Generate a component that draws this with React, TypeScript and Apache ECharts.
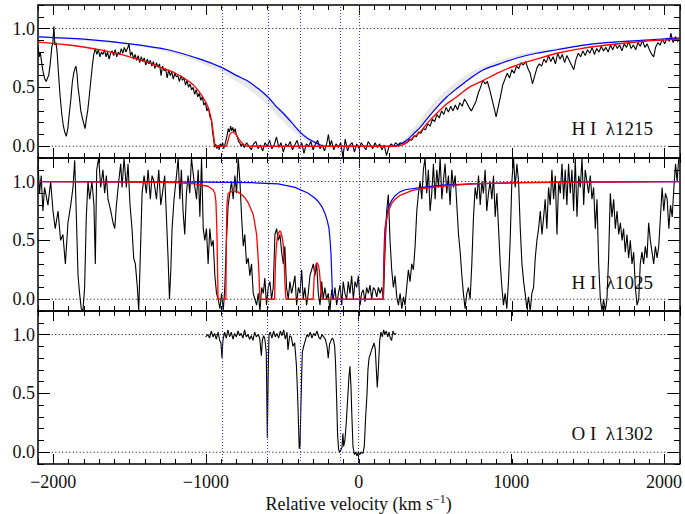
import React, { useEffect, useRef } from "react";
import * as echarts from "echarts";

// ---------- axes ----------
const X_RANGE = [-2100, 2100];
const Y_RANGE = [-0.1, 1.2];
const xMajorTicks = [-2000, -1000, 0, 1000, 2000];
const yMajorTicks = [0, 0.5, 1.0];
const componentVelocities = [-895, -596, -384, -120, 0];
const referenceLevels = [0, 1];
const referenceSpan = [-2010, 2020];
const panelNames = ["H I\u00a0\u00a0\u03bb1215", "H I\u00a0\u00a0\u03bb1025", "O I\u00a0\u00a0\u03bb1302"];

// ---------- panel 1 : H I 1215 ----------
const hi1215Data = [
  [-2100, 0.84], [-2092, 0.76], [-2085, 0.8], [-2075, 0.7], [-2065, 0.62], [-2055, 0.57], [-2046, 0.55], [-2038, 0.58],
  [-2030, 0.6], [-2020, 0.7], [-2010, 0.84], [-2003, 0.88], [-1996, 1.02], [-1990, 0.86], [-1982, 0.88], [-1975, 0.8],
  [-1965, 0.6], [-1955, 0.42], [-1945, 0.28], [-1935, 0.18], [-1925, 0.12], [-1915, 0.085], [-1905, 0.15], [-1895, 0.28],
  [-1885, 0.4], [-1875, 0.55], [-1865, 0.63], [-1858, 0.66], [-1852, 0.68], [-1845, 0.62], [-1838, 0.5], [-1830, 0.42],
  [-1820, 0.3], [-1810, 0.24], [-1800, 0.19], [-1792, 0.15], [-1785, 0.22], [-1775, 0.3], [-1765, 0.42], [-1755, 0.55],
  [-1745, 0.68], [-1735, 0.78], [-1725, 0.83], [-1715, 0.78], [-1705, 0.82], [-1695, 0.76], [-1685, 0.8], [-1675, 0.78],
  [-1665, 0.82], [-1655, 0.76], [-1645, 0.8], [-1635, 0.74], [-1625, 0.79], [-1615, 0.81], [-1605, 0.77], [-1595, 0.82],
  [-1585, 0.76], [-1575, 0.8], [-1565, 0.78], [-1555, 0.83], [-1545, 0.79], [-1535, 0.84], [-1525, 0.8], [-1515, 0.83],
  [-1505, 0.87], [-1495, 0.77], [-1485, 0.8], [-1475, 0.74], [-1465, 0.78], [-1455, 0.73], [-1445, 0.77], [-1435, 0.71],
  [-1425, 0.76], [-1415, 0.72], [-1405, 0.75], [-1395, 0.69], [-1385, 0.74], [-1375, 0.7], [-1365, 0.73], [-1355, 0.68],
  [-1345, 0.72], [-1335, 0.66], [-1325, 0.71], [-1315, 0.67], [-1305, 0.7], [-1295, 0.6], [-1285, 0.68], [-1275, 0.64],
  [-1265, 0.66], [-1255, 0.58], [-1245, 0.65], [-1235, 0.6], [-1225, 0.63], [-1215, 0.57], [-1205, 0.62], [-1195, 0.59],
  [-1185, 0.6], [-1175, 0.55], [-1165, 0.6], [-1155, 0.56], [-1145, 0.58], [-1135, 0.52], [-1125, 0.56], [-1115, 0.5],
  [-1105, 0.53], [-1095, 0.48], [-1085, 0.5], [-1075, 0.44], [-1065, 0.48], [-1055, 0.42], [-1045, 0.45], [-1035, 0.39],
  [-1025, 0.42], [-1015, 0.35], [-1005, 0.37], [-995, 0.3], [-985, 0.33], [-975, 0.25], [-965, 0.22], [-958, 0.12],
  [-950, 0.05], [-944, -0.01], [-938, 0.02], [-930, -0.02], [-922, 0.01], [-915, -0.03], [-908, 0.02], [-900, 0.0],
  [-892, 0.03], [-885, -0.02], [-878, 0.01], [-870, 0.05], [-862, 0.1], [-855, 0.15], [-848, 0.12], [-840, 0.17],
  [-833, 0.13], [-826, 0.16], [-818, 0.12], [-810, 0.15], [-803, 0.1], [-796, 0.08], [-788, 0.04], [-780, 0.03],
  [-772, 0.0], [-765, 0.02], [-750, -0.01], [-735, 0.03], [-720, 0.0], [-705, -0.03], [-690, 0.02], [-675, 0.04],
  [-660, -0.02], [-645, 0.01], [-630, -0.04], [-615, 0.03], [-600, 0.0], [-585, 0.05], [-570, -0.02], [-555, 0.01],
  [-540, 0.08], [-525, -0.01], [-510, 0.03], [-495, -0.05], [-480, 0.02], [-465, 0.0], [-450, 0.04], [-435, -0.03],
  [-420, 0.01], [-405, 0.05], [-390, -0.02], [-375, 0.03], [-360, -0.06], [-345, 0.02], [-330, 0.0], [-315, 0.04],
  [-300, -0.03], [-285, 0.02], [-270, 0.05], [-255, -0.02], [-240, 0.01], [-225, -0.04], [-210, 0.03], [-200, 0.1],
  [-190, 0.0], [-180, 0.05], [-165, -0.03], [-150, 0.02], [-135, -0.01], [-120, 0.03], [-105, -0.09], [-90, 0.06],
  [-75, -0.04], [-60, 0.01], [-45, 0.03], [-30, -0.05], [-15, 0.02], [0, -0.02], [15, 0.03], [30, 0.0], [45, -0.03],
  [60, 0.04], [75, 0.01], [90, -0.02], [105, 0.03], [120, -0.01], [135, 0.02], [150, -0.03], [165, 0.01], [180, -0.08],
  [195, -0.01], [210, 0.02], [225, 0.0], [240, 0.03], [255, 0.01], [270, 0.03], [285, 0.02], [300, 0.04], [315, 0.03],
  [330, 0.06], [345, 0.05], [360, 0.09], [375, 0.08], [390, 0.12], [405, 0.11], [420, 0.15], [435, 0.14], [450, 0.19],
  [465, 0.17], [480, 0.23], [495, 0.21], [510, 0.27], [525, 0.24], [540, 0.3], [555, 0.27], [570, 0.33], [585, 0.29],
  [600, 0.34], [615, 0.3], [630, 0.35], [645, 0.31], [660, 0.37], [675, 0.34], [690, 0.4], [705, 0.37], [720, 0.33],
  [735, 0.3], [750, 0.34], [765, 0.38], [780, 0.45], [795, 0.5], [810, 0.56], [825, 0.53], [840, 0.55], [855, 0.48],
  [870, 0.4], [885, 0.32], [897, 0.25], [910, 0.33], [925, 0.42], [940, 0.52], [955, 0.57], [970, 0.62], [985, 0.58],
  [1000, 0.65], [1015, 0.62], [1030, 0.68], [1045, 0.66], [1060, 0.71], [1075, 0.69], [1090, 0.72], [1105, 0.66],
  [1120, 0.62], [1135, 0.53], [1150, 0.6], [1165, 0.67], [1180, 0.7], [1195, 0.68], [1210, 0.74], [1225, 0.71],
  [1240, 0.77], [1255, 0.72], [1270, 0.76], [1285, 0.7], [1300, 0.79], [1315, 0.74], [1330, 0.78], [1345, 0.71],
  [1360, 0.77], [1375, 0.73], [1390, 0.69], [1405, 0.65], [1420, 0.74], [1435, 0.79], [1450, 0.76], [1465, 0.81],
  [1480, 0.77], [1495, 0.82], [1510, 0.79], [1525, 0.84], [1540, 0.78], [1555, 0.83], [1570, 0.8], [1585, 0.85],
  [1600, 0.81], [1615, 0.84], [1630, 0.8], [1645, 0.86], [1660, 0.82], [1675, 0.87], [1690, 0.83], [1705, 0.86],
  [1720, 0.81], [1735, 0.87], [1750, 0.84], [1765, 0.89], [1780, 0.83], [1795, 0.86], [1810, 0.82], [1825, 0.88],
  [1840, 0.85], [1855, 0.9], [1870, 0.84], [1885, 0.87], [1900, 0.82], [1915, 0.78], [1928, 0.76], [1940, 0.84],
  [1955, 0.88], [1970, 0.86], [1985, 0.91], [2000, 0.87], [2015, 0.92], [2030, 0.89], [2040, 0.96], [2055, 0.88],
  [2070, 0.93], [2085, 0.89], [2100, 0.92],
];
const hi1215Total = [
  [-2100, 0.885], [-1900, 0.86], [-1700, 0.82], [-1500, 0.76], [-1400, 0.72], [-1300, 0.67], [-1200, 0.62],
  [-1100, 0.54], [-1050, 0.47], [-1000, 0.37], [-980, 0.3], [-965, 0.22], [-955, 0.13], [-947, 0.05], [-940, 0.0],
  [-870, 0.0], [-860, 0.03], [-845, 0.1], [-825, 0.12], [-805, 0.1], [-780, 0.05], [-755, 0.015], [-730, 0.0],
  [240, 0.0], [280, 0.01], [312, 0.03], [350, 0.07], [400, 0.12], [450, 0.2], [509, 0.28], [575, 0.36], [640, 0.42],
  [720, 0.5], [814, 0.56], [920, 0.63], [1033, 0.69], [1160, 0.74], [1295, 0.79], [1450, 0.83], [1622, 0.86],
  [1850, 0.89], [2100, 0.91],
];
const hi1215Main = [
  [-2100, 0.93], [-1800, 0.91], [-1500, 0.87], [-1250, 0.82], [-1040, 0.74], [-900, 0.67], [-800, 0.6], [-736, 0.56],
  [-660, 0.49], [-598, 0.42], [-550, 0.35], [-496, 0.28], [-440, 0.2], [-386, 0.12], [-340, 0.07], [-299, 0.04],
  [-260, 0.015], [-230, 0.0], [220, 0.0], [260, 0.01], [312, 0.05], [360, 0.11], [400, 0.16], [450, 0.24], [509, 0.33],
  [575, 0.42], [640, 0.49], [720, 0.57], [814, 0.65], [920, 0.7], [1033, 0.75], [1160, 0.79], [1295, 0.82],
  [1450, 0.855], [1622, 0.88], [1850, 0.9], [2100, 0.92],
];
const bandVel = [-2100, -1500, -1250, -1040, -900, -800, -736, -660, -598, -550, -496, -440, -386, -340, -299, -260, -230, -200,
  200, 230, 260, 312, 360, 400, 450, 509, 575, 640, 720, 814, 920, 1033, 1160, 1295, 1450, 1622, 1850, 2100];
const bandLow = [0.925, 0.86, 0.8, 0.71, 0.63, 0.55, 0.5, 0.42, 0.35, 0.28, 0.21, 0.14, 0.08, 0.04, 0.015, 0.0, 0, 0,
  0, 0, 0.005, 0.04, 0.1, 0.15, 0.23, 0.32, 0.41, 0.48, 0.56, 0.64, 0.69, 0.745, 0.785, 0.815, 0.85, 0.875, 0.9, 0.92];
const bandHigh = [0.935, 0.875, 0.825, 0.745, 0.68, 0.61, 0.57, 0.5, 0.44, 0.37, 0.3, 0.22, 0.14, 0.09, 0.055, 0.03, 0.01, 0,
  0, 0.01, 0.025, 0.08, 0.16, 0.22, 0.31, 0.4, 0.48, 0.55, 0.62, 0.68, 0.73, 0.775, 0.81, 0.835, 0.865, 0.89, 0.91, 0.925];

// ---------- panel 2 : H I 1025 ----------
const hi1025Data = [
  [-2100, 1.15], [-2090, 0.9], [-2079, 1.05], [-2068, 0.75], [-2057, 0.95], [-2035, 0.8], [-2017, 1.0], [-2002, 0.75],
  [-1987, 0.6], [-1969, 0.75], [-1952, 0.5], [-1937, 0.55], [-1921, 0.3], [-1904, 0.65], [-1886, 0.8], [-1871, 0.95],
  [-1860, 1.18], [-1849, 0.7], [-1838, 0.2], [-1828, 0.05], [-1817, -0.08], [-1806, -0.1], [-1795, 0.1], [-1784, 0.7],
  [-1773, 1.0], [-1762, 0.85], [-1747, 1.0], [-1734, 0.8], [-1725, 0.3], [-1716, 1.1], [-1703, 1.2], [-1690, 0.95],
  [-1675, 1.1], [-1664, 0.9], [-1653, 1.05], [-1642, 0.85], [-1624, 0.75], [-1609, 0.65], [-1598, 0.6], [-1587, 0.8],
  [-1572, 1.0], [-1559, 1.15], [-1550, 0.95], [-1537, 1.2], [-1522, 0.95], [-1511, 1.15], [-1498, 0.8], [-1485, 0.6],
  [-1474, 0.35], [-1463, 0.3], [-1450, 0.1], [-1441, -0.1], [-1430, 0.4], [-1419, 0.9], [-1406, 1.05], [-1391, 0.9],
  [-1380, 1.1], [-1365, 0.85], [-1354, 1.05], [-1341, 1.0], [-1325, 0.85], [-1310, 1.1], [-1297, 0.8], [-1286, 0.9],
  [-1271, 1.05], [-1260, 0.7], [-1249, 0.35], [-1240, 0.0], [-1231, 0.25], [-1223, 0.6], [-1210, 0.85], [-1194, 1.05],
  [-1183, 1.2], [-1172, 0.85], [-1162, 1.1], [-1151, 0.75], [-1140, 0.55], [-1129, 0.9], [-1118, 1.05], [-1107, 0.9],
  [-1096, 1.2], [-1079, 1.0], [-1063, 0.85], [-1052, 1.1], [-1041, 0.7], [-1030, 1.2], [-1019, 0.6], [-1009, 0.5],
  [-998, 0.6], [-987, 0.3], [-976, 0.6], [-965, 0.45], [-954, 0.5], [-943, 0.2], [-932, 0.05], [-921, 0.0],
  [-910, -0.08], [-899, 0.05], [-888, -0.1], [-878, 0.1], [-867, 0.5], [-856, 0.8], [-845, 0.9], [-834, 1.0],
  [-823, 0.85], [-812, 1.05], [-801, 0.9], [-790, 1.2], [-779, 1.0], [-768, 0.7], [-757, 0.45], [-747, 0.55],
  [-736, 0.3], [-725, 0.35], [-714, 0.2], [-703, 0.3], [-692, 0.05], [-681, 0.0], [-670, -0.05], [-659, 0.05],
  [-648, -0.1], [-637, 0.1], [-626, 0.05], [-616, 0.18], [-605, -0.05], [-594, 0.1], [-583, 0.15], [-572, 0.0],
  [-561, 0.1], [-550, 0.55], [-539, 0.6], [-528, 0.5], [-517, 0.55], [-506, 0.4], [-495, 0.3], [-485, 0.45],
  [-474, 0.1], [-463, 0.0], [-452, 0.15], [-441, 0.05], [-430, 0.12], [-419, 0.2], [-408, -0.05], [-397, 0.1],
  [-386, 0.05], [-375, 0.25], [-365, 0.0], [-354, 0.1], [-343, -0.05], [-332, 0.05], [-321, 0.2], [-310, 0.25],
  [-299, 0.3], [-288, 0.2], [-277, 0.3], [-266, 0.05], [-255, -0.05], [-244, 0.15], [-234, 0.0], [-223, 0.1],
  [-212, 0.0], [-201, 0.05], [-190, -0.1], [-179, 0.08], [-168, 0.0], [-157, 0.1], [-146, -0.05], [-135, 0.05],
  [-124, 0.12], [-113, -0.05], [-103, 0.15], [-92, 0.05], [-81, 0.0], [-70, 0.15], [-59, 0.05], [-48, 0.2],
  [-37, 0.0], [-26, 0.15], [-15, 0.1], [-4, 0.2], [7, -0.05], [17, 0.05], [28, 0.08], [39, -0.02], [50, 0.1],
  [61, 0.05], [72, 0.12], [83, 0.0], [94, 0.1], [105, 0.08], [116, 0.02], [127, 0.1], [138, 0.05], [149, 0.1],
  [160, 0.0], [170, 0.4], [181, 0.75], [192, 0.89], [203, 0.5], [214, 0.25], [225, 0.1], [236, 0.2], [247, 0.02],
  [258, -0.05], [269, 0.05], [280, -0.08], [291, 0.02], [301, -0.05], [312, 0.1], [323, 0.25], [334, 0.15],
  [345, 0.3], [356, 0.25], [367, 0.45], [378, 0.75], [389, 0.9], [400, 1.0], [411, 0.85], [421, 1.1], [432, 1.2],
  [443, 0.9], [454, 1.1], [465, 0.75], [476, 0.9], [487, 1.15], [498, 0.85], [509, 1.1], [520, 0.95], [531, 1.2],
  [542, 0.85], [552, 1.0], [563, 1.15], [574, 0.9], [585, 1.05], [596, 0.8], [607, 1.1], [618, 0.95], [629, 1.05],
  [640, 0.8], [651, 0.55], [662, 0.4], [673, 0.2], [683, 0.05], [694, -0.08], [705, 0.05], [716, 0.1], [727, 0.0],
  [738, 0.3], [749, 0.7], [760, 0.95], [771, 0.85], [782, 1.05], [793, 0.8], [804, 1.0], [814, 0.9], [825, 1.1],
  [836, 0.75], [847, 0.9], [858, 1.0], [869, 0.85], [880, 1.05], [891, 0.7], [902, 0.9], [913, 0.6], [924, 0.3],
  [935, 0.1], [945, -0.05], [956, 0.05], [967, -0.08], [978, 0.15], [989, 0.5], [1000, 1.0], [1011, 1.2],
  [1022, 0.95], [1033, 1.15], [1044, 1.0], [1055, 0.6], [1066, 0.3], [1077, 0.15], [1087, 0.05], [1098, -0.08],
  [1109, 0.02], [1120, -0.1], [1131, 0.05], [1142, 0.1], [1153, 0.35], [1164, 0.5], [1175, 0.6], [1186, 0.75],
  [1197, 0.55], [1208, 0.7], [1218, 0.85], [1229, 0.6], [1240, 0.95], [1251, 0.8], [1262, 1.1], [1273, 0.85],
  [1284, 1.05], [1295, 0.55], [1306, 1.0], [1317, 0.9], [1328, 1.15], [1339, 0.85], [1349, 1.1], [1360, 0.8],
  [1371, 1.15], [1382, 0.9], [1393, 1.1], [1404, 0.75], [1415, 1.2], [1426, 0.7], [1437, 1.05], [1448, 0.95],
  [1459, 1.2], [1470, 0.8], [1480, 1.1], [1491, 1.0], [1502, 0.9], [1513, 1.05], [1524, 0.85], [1535, 0.95],
  [1546, 0.6], [1557, 0.85], [1568, 0.3], [1579, 0.0], [1590, -0.1], [1600, 0.0], [1611, -0.1], [1622, 0.0],
  [1633, 0.35], [1644, 0.9], [1655, 0.7], [1666, 0.85], [1677, 0.6], [1688, 0.75], [1699, 0.55], [1710, 0.65],
  [1721, 0.5], [1731, 0.6], [1742, 0.4], [1753, 0.55], [1764, 0.35], [1775, 0.5], [1786, 0.3], [1797, 0.4],
  [1808, 0.1], [1819, -0.05], [1830, 0.0], [1840, 0.3], [1851, 0.4], [1862, 0.3], [1873, 0.45], [1884, 0.35],
  [1895, 0.65], [1906, 0.5], [1917, 0.4], [1928, 0.3], [1939, 0.45], [1950, 0.35], [1961, 0.45], [1972, 0.7],
  [1983, 0.95], [1994, 0.75], [2005, 0.9], [2016, 0.85], [2027, 0.6], [2038, 0.8], [2049, 0.7], [2060, 0.95],
  [2071, 1.15], [2081, 1.0], [2092, 1.2], [2103, 1.2],
];
const hi1025Total = [
  [-2100, 1.0], [-1500, 0.995], [-1200, 0.99], [-1074, 0.98], [-987, 0.96], [-955, 0.93], [-943, 0.9], [-936, 0.83],
  [-930, 0.6], [-926, 0.3], [-922, 0.0], [-871, 0.0], [-868, 0.5], [-864, 0.8], [-856, 0.9], [-823, 0.92],
  [-790, 0.91], [-768, 0.89], [-745, 0.86], [-725, 0.82], [-705, 0.76], [-692, 0.72], [-680, 0.63], [-670, 0.55],
  [-662, 0.4], [-655, 0.23], [-648, 0.0], [-552, 0.0], [-547, 0.3], [-542, 0.42], [-535, 0.52], [-528, 0.56],
  [-518, 0.58], [-511, 0.57], [-503, 0.53], [-495, 0.46], [-489, 0.3], [-485, 0.15], [-478, 0.0], [-300, 0.0],
  [-294, 0.17], [-288, 0.26], [-280, 0.3], [-273, 0.31], [-266, 0.29], [-260, 0.25], [-254, 0.16], [-249, 0.08],
  [-240, 0.0], [158, 0.0], [162, 0.2], [166, 0.38], [175, 0.63], [192, 0.75], [212, 0.81], [236, 0.85], [265, 0.88],
  [301, 0.9], [350, 0.925], [411, 0.94], [542, 0.96], [738, 0.98], [1044, 0.99], [1500, 0.995], [2100, 1.0],
];
const hi1025Main = [
  [-2100, 1.0], [-1000, 0.995], [-700, 0.99], [-528, 0.98], [-419, 0.95], [-332, 0.9], [-290, 0.86], [-266, 0.83],
  [-240, 0.78], [-223, 0.73], [-208, 0.67], [-196, 0.6], [-188, 0.48], [-183, 0.38], [-178, 0.2], [-172, 0.0],
  [158, 0.0], [162, 0.3], [166, 0.5], [170, 0.6], [181, 0.7], [192, 0.78], [214, 0.84], [236, 0.88], [265, 0.91],
  [301, 0.93], [411, 0.95], [542, 0.97], [738, 0.98], [1044, 0.99], [1500, 0.995], [2100, 1.0],
];

// ---------- panel 3 : O I 1302 ----------
const oi1302Data = [
  [-1002, 0.98], [-987, 1.0], [-976, 0.97], [-965, 1.03], [-954, 0.98], [-943, 1.01], [-932, 0.96], [-921, 1.02],
  [-910, 0.95], [-902, 0.93], [-895, 0.8], [-889, 0.95], [-878, 1.02], [-867, 0.97], [-856, 1.04], [-845, 0.98],
  [-834, 1.02], [-823, 0.96], [-812, 1.01], [-801, 0.98], [-790, 1.03], [-779, 0.99], [-769, 1.01], [-758, 0.97],
  [-747, 1.04], [-736, 0.98], [-725, 1.0], [-714, 0.96], [-703, 0.99], [-692, 0.95], [-681, 1.02], [-670, 0.98],
  [-659, 1.0], [-648, 0.97], [-637, 0.82], [-631, 0.95], [-622, 0.99], [-614, 0.96], [-605, 0.85], [-598, 0.12],
  [-592, 0.7], [-587, 1.0], [-579, 1.02], [-568, 0.97], [-557, 1.03], [-546, 0.98], [-535, 1.01], [-524, 0.97],
  [-513, 1.03], [-502, 0.99], [-491, 1.04], [-480, 0.96], [-469, 1.02], [-463, 0.87], [-452, 0.99], [-441, 0.98],
  [-430, 0.9], [-419, 0.93], [-408, 0.75], [-400, 0.5], [-393, 0.2], [-389, 0.03], [-384, 0.05], [-378, 0.4],
  [-369, 0.85], [-360, 0.9], [-349, 0.95], [-338, 1.0], [-328, 0.98], [-317, 1.02], [-306, 0.97], [-295, 1.01],
  [-284, 0.99], [-273, 1.03], [-262, 0.98], [-251, 0.96], [-240, 1.0], [-229, 0.98], [-218, 0.96], [-207, 0.9],
  [-199, 0.8], [-190, 0.92], [-181, 0.95], [-172, 0.97], [-164, 0.95], [-157, 0.9], [-151, 0.75], [-144, 0.45],
  [-138, 0.15], [-131, 0.02], [-124, 0.0], [-116, 0.02], [-109, 0.04], [-103, 0.16], [-98, 0.05], [-90, 0.1],
  [-81, 0.25], [-72, 0.45], [-63, 0.65], [-57, 0.73], [-50, 0.55], [-44, 0.3], [-37, 0.05], [-28, -0.02],
  [-20, 0.0], [-11, -0.03], [-2, 0.0], [7, -0.02], [17, 0.0], [28, -0.01], [37, 0.05], [46, 0.3], [55, 0.5],
  [61, 0.7], [68, 0.8], [76, 0.83], [85, 0.87], [94, 0.9], [100, 0.93], [109, 0.88], [116, 0.7], [122, 0.55],
  [129, 0.7], [138, 0.95], [146, 1.02], [155, 0.98], [164, 1.04], [172, 1.0], [181, 1.03], [190, 0.98], [199, 1.02],
  [207, 0.97], [216, 0.95], [225, 1.03], [234, 1.0], [247, 1.01],
];

// ---------- layout ----------
const FONT = "Liberation Serif";
const LEFT = 38;
const WIDTH = 642;
const HEIGHT = 153;
const TOPS = [5, 158, 311];

const xMinorTicks: number[] = [];
for (let v = X_RANGE[0]; v <= X_RANGE[1]; v += 100) xMinorTicks.push(v);
const yMinorTicks: number[] = [];
for (let k = -1; k <= 12; k++) yMinorTicks.push(k / 10);

const fmtX = (v: number) => (v < 0 ? "\u2212" + Math.abs(v) : String(v));

export default function App() {
  const ref = useRef<HTMLDivElement>(null);

  useEffect(() => {
    if (!ref.current) return;
    const chart = echarts.init(ref.current, undefined, { renderer: "svg" });

    const grids: any[] = [];
    const xAxes: any[] = [];
    const yAxes: any[] = [];
    const frameLine = { show: true, onZero: false, lineStyle: { color: "#000", width: 1.5 } };
    const noLine = { show: false, onZero: false };
    const tickStyle = { color: "#000", width: 1 };

    TOPS.forEach((top, i) => {
      const rect = { left: LEFT, top, width: WIDTH, height: HEIGHT };
      grids.push({ ...rect }, { ...rect });
      const isBottom = i === 2;
      const xc = { type: "value", min: X_RANGE[0], max: X_RANGE[1], splitLine: { show: false }, minorTick: { show: false } };
      const yc = { type: "value", min: Y_RANGE[0], max: Y_RANGE[1], splitLine: { show: false }, minorTick: { show: false } };
      xAxes.push(
        {
          ...xc, gridIndex: 2 * i, position: "bottom", axisLine: frameLine,
          axisTick: { show: true, inside: true, length: 10, customValues: xMajorTicks, lineStyle: tickStyle },
          axisLabel: {
            show: isBottom, customValues: xMajorTicks, formatter: fmtX, margin: 9,
            fontFamily: FONT, fontSize: 18, color: "#111",
          },
          name: isBottom ? "{a|Relative velocity (km s}{b|\u22121}{a|)}" : "",
          nameLocation: "middle", nameGap: 29,
          nameTextStyle: {
            fontFamily: FONT,
            rich: {
              a: { fontFamily: FONT, fontSize: 18, lineHeight: 22, color: "#111" },
              b: { fontFamily: FONT, fontSize: 12, lineHeight: 12, verticalAlign: "top", color: "#111" },
            },
          },
        },
        {
          ...xc, gridIndex: 2 * i, position: "top", axisLine: frameLine,
          axisTick: { show: true, inside: true, length: 10, customValues: xMajorTicks, lineStyle: tickStyle },
          axisLabel: { show: false },
        },
        {
          ...xc, gridIndex: 2 * i + 1, position: "bottom", axisLine: noLine,
          axisTick: { show: true, inside: true, length: 5, customValues: xMinorTicks, lineStyle: tickStyle },
          axisLabel: { show: false },
        },
        {
          ...xc, gridIndex: 2 * i + 1, position: "top", axisLine: noLine,
          axisTick: { show: true, inside: true, length: 5, customValues: xMinorTicks, lineStyle: tickStyle },
          axisLabel: { show: false },
        }
      );
      yAxes.push(
        {
          ...yc, gridIndex: 2 * i, position: "left", axisLine: frameLine,
          axisTick: { show: true, inside: true, length: 12, customValues: yMajorTicks, lineStyle: tickStyle },
          axisLabel: {
            show: true, customValues: yMajorTicks, formatter: (v: number) => v.toFixed(1), margin: 3,
            fontFamily: FONT, fontSize: 18, color: "#111",
          },
        },
        {
          ...yc, gridIndex: 2 * i, position: "right", axisLine: frameLine,
          axisTick: { show: true, inside: true, length: 12, customValues: yMajorTicks, lineStyle: tickStyle },
          axisLabel: { show: false },
        },
        {
          ...yc, gridIndex: 2 * i + 1, position: "left", axisLine: noLine,
          axisTick: { show: true, inside: true, length: 6, customValues: yMinorTicks, lineStyle: tickStyle },
          axisLabel: { show: false },
        },
        {
          ...yc, gridIndex: 2 * i + 1, position: "right", axisLine: noLine,
          axisTick: { show: true, inside: true, length: 6, customValues: yMinorTicks, lineStyle: tickStyle },
          axisLabel: { show: false },
        }
      );
    });

    const line = (data: any[], color: string, width: number, i: number, extra: any = {}) => ({
      type: "line", data, xAxisIndex: 4 * i, yAxisIndex: 4 * i,
      showSymbol: false, symbol: "none", silent: true, animation: false,
      lineStyle: { color, width }, itemStyle: { color }, ...extra,
    });

    const series: any[] = [];

    // panel 1 uncertainty band (polygon through the axis scales)
    series.push({
      type: "custom", xAxisIndex: 0, yAxisIndex: 0, silent: true, animation: false, z: 1,
      data: [[bandVel[0], bandLow[0]]],
      encode: { x: 0, y: 1 },
      renderItem: (_params: any, api: any) => {
        const upper = bandVel.map((v, j) => api.coord([v, bandHigh[j]]));
        const lower = bandVel.map((v, j) => api.coord([v, bandLow[j]])).reverse();
        return {
          type: "polygon",
          shape: { points: upper.concat(lower), smooth: 0.25 },
          style: { fill: "#e8e8e8", stroke: "none" },
        };
      },
    });

    TOPS.forEach((_, i) => {
      referenceLevels.forEach((lvl, k) => {
        series.push(
          line(referenceSpan.map((v) => [v, lvl]), "#000", 1, i, {
            lineStyle: { color: "#000", width: 1, type: [1, 2.5] },
            markLine: k === 0 ? {
              silent: true, symbol: "none", label: { show: false },
              lineStyle: { color: "#3a3aff", width: 1, type: [1, 2] },
              data: componentVelocities.map((v) => ({ xAxis: v })),
            } : undefined,
          })
        );
      });
    });

    series.push(line(hi1215Data, "#000", 1.1, 0));
    series.push(line(hi1215Main, "#0000ff", 1.2, 0, { smooth: 0.3 }));
    series.push(line(hi1215Total, "#ff0000", 1.3, 0, { smooth: 0.3 }));

    series.push(line(hi1025Data, "#000", 1.1, 1));
    series.push(line(hi1025Main, "#0000ff", 1.2, 1));
    series.push(line(hi1025Total, "#ff0000", 1.3, 1));

    series.push(line(oi1302Data, "#000", 1.1, 2));

    const labelY = [128, 282, 433];
    const graphic = panelNames.map((t, i) => ({
      type: "text", x: 653, y: labelY[i], silent: true, z: 100,
      style: { text: t, x: 0, y: 0, align: "right", verticalAlign: "middle", font: `19px ${FONT}`, fill: "#111" },
    }));

    chart.setOption({
      animation: false,
      backgroundColor: "#fff",
      grid: grids,
      xAxis: xAxes,
      yAxis: yAxes,
      series,
      graphic,
    });

    return () => chart.dispose();
  }, []);

  return <div ref={ref} style={{ position: "fixed", left: 0, top: 0, width: 685, height: 514 }} />;
}
